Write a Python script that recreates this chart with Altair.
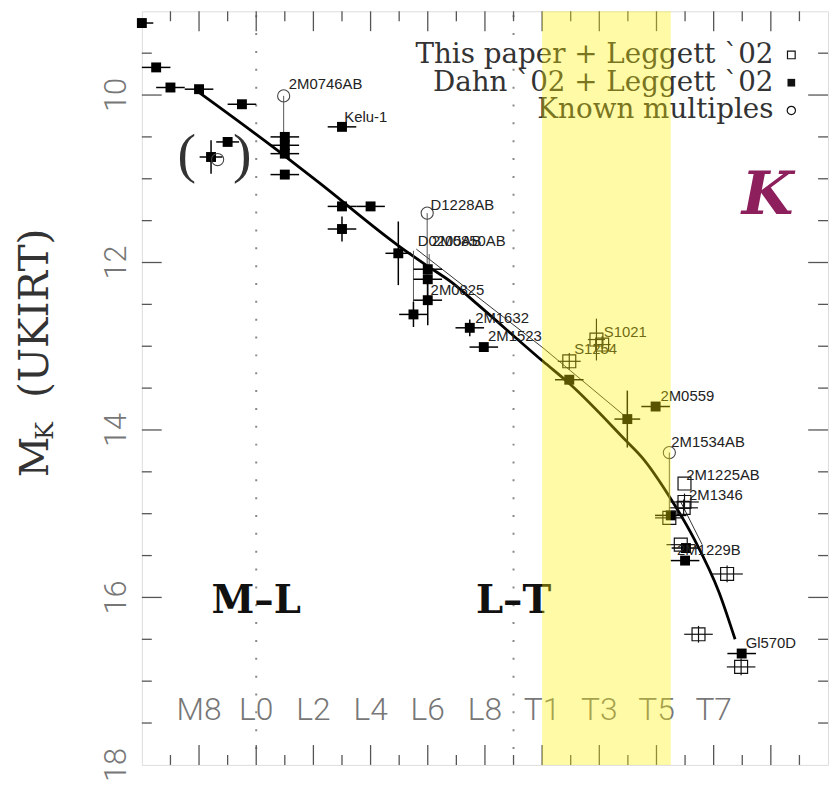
import altair as alt
import pandas as pd

# ---------------- data ----------------
# spectral-type index: M0 = 0, L0 = 10, T0 = 20 (as drawn on the plot)
# Dahn '02 + Leggett '02 (filled squares)
dahn_sp = [6.0, 6.5, 7.0, 8.0, 9.5, 9.0, 8.42, 11.0, 11.0, 11.0, 11.0, 13.0, 13.0, 14.0, 13.0,
           14.97, 16.0, 16.0, 16.0, 15.5, 17.47, 17.96, 20.95, 22.98, 23.97, 24.5, 25.03, 25.0, 26.98]
dahn_mk = [9.14, 9.67, 9.91, 9.93, 10.11, 10.56, 10.74, 10.50, 10.60, 10.70, 10.95, 10.38, 11.33, 11.33, 11.60,
           11.89, 12.08, 12.20, 12.45, 12.62, 12.78, 13.01, 13.40, 13.87, 13.72, 15.02, 15.41, 15.56, 16.67]
dahn_spe = [0.4, 0.5, 0.5, 0.5, 0.5, 0.4, 0.4, 0.5, 0.5, 0.5, 0.5, 0.5, 0.5, 0.5, 0.5,
            0.45, 0.5, 0.5, 0.5, 0.5, 0.5, 0.5, 0.5, 0.45, 0.5, 0.55, 0.5, 0.5, 0.5]
dahn_mke = [0, 0, 0, 0, 0, 0, 0.2, 0, 0, 0, 0, 0, 0, 0, 0.15,
            0.38, 0, 0, 0.3, 0.15, 0.1, 0, 0, 0.34, 0, 0, 0, 0, 0]

# This paper + Leggett '02 (open squares)
this_sp = [20.95, 21.9, 22.1, 24.98, 24.98, 24.95, 24.45, 24.85, 26.47, 25.47, 26.96]
this_mk = [13.18, 12.92, 12.98, 14.64, 14.86, 14.93, 15.05, 15.37, 15.72, 16.44, 16.83]
this_spe = [0.4, 0.3, 0.3, 0.0, 0.5, 0.5, 0.5, 0.5, 0.55, 0.5, 0.5]
this_mke = [0.1, 0.25, 0.1, 0.0, 0.1, 0.1, 0.0, 0.0, 0.1, 0.1, 0.1]

# Known multiples (open circles)
mult_sp = [10.96, 15.98, 24.45, 8.65]
mult_mk = [10.01, 11.41, 14.27, 10.77]

# thin connectors between multiples and components
conn_sp = [10.96, 15.98, 16.05, 24.45, 15.5]
conn_top = [10.01, 11.41, 11.90, 14.27, 11.86]
conn_bot = [10.50, 12.45, 12.08, 15.02, 12.62]

# thick fit curve
fit_sp = [7.96, 10.97, 12.21, 14.98, 15.98, 16.85, 17.64, 20.03, 21.0, 22.94, 23.5, 24.46, 25.33, 26.19, 26.75]
fit_mk = [9.96, 10.72, 11.05, 11.80, 12.04, 12.24, 12.47, 13.18, 13.46, 14.13, 14.33, 14.80, 15.31, 15.94, 16.50]

# thin secondary curve (two visible segments)
thin_sp = [15.6, 20.07, 22.95, 24.85, 25.6]
thin_mk = [11.84, 13.03, 13.85, 14.86, 15.37]
thin_seg = [1, 1, 1, 2, 2]

# object labels
lab_text = ["2M0746AB", "Kelu-1", "D1228AB", "D0205AB", "2M0850AB", "2M0825", "2M1632", "2M1523",
            "S1021", "S1254", "2M0559", "2M1534AB", "2M1225AB", "2M1346", "2M1229B", "Gl570D"]
lab_sp = [11.14, 13.08, 16.10, 15.65, 16.15, 16.10, 17.66, 18.11,
          22.16, 21.12, 24.14, 24.52, 25.04, 25.14, 24.72, 27.12]
lab_mk = [9.87, 10.26, 11.31, 11.74, 11.74, 12.33, 12.66, 12.88,
          12.83, 13.03, 13.60, 14.15, 14.54, 14.78, 15.44, 16.54]

# parentheses around the bracketed points
paren_text = ["(", ")"]
paren_sp = [7.57, 9.51]
paren_mk = [10.72, 10.72]

# spectral type labels and boundaries
spt_names = ["M8", "L0", "L2", "L4", "L6", "L8", "T1", "T3", "T5", "T7"]
spt_pos = [8, 10, 12, 14, 16, 18, 20, 22, 24, 26]
bound_names = ["M\u2013L", "L\u2013T"]
bound_pos = [10, 19]
band_from = [20.0]
band_to = [24.5]

x_major = [8, 10, 12, 14, 16, 18, 20, 22, 24, 26, 28]
x_minor = [7, 9, 11, 13, 15, 17, 19, 21, 23, 25, 27, 29]
y_major = [10, 12, 14, 16]
y_minor = [9.5, 10.5, 11, 11.5, 12.5, 13, 13.5, 14.5, 15, 15.5, 16.5, 17, 17.5]
y_labels = [10, 12, 14, 16, 18]

legend_text = ["This paper + Leggett `02", "Dahn `02 + Leggett `02", "Known multiples"]

# ---------------- chart ----------------
W, H = 692, 760
xs = alt.Scale(domain=[6, 30], nice=False, zero=False)
ys = alt.Scale(domain=[9, 18], reverse=True, nice=False, zero=False)


def X(f):
    return alt.X(f, type="quantitative", scale=xs, axis=None)


def Y(f):
    return alt.Y(f, type="quantitative", scale=ys, axis=None)


dahn = pd.DataFrame({"sp": dahn_sp, "mk": dahn_mk, "spe": dahn_spe, "mke": dahn_mke})
dahn["x0"] = (dahn.sp - dahn.spe).clip(lower=6)
dahn["x1"] = dahn.sp + dahn.spe
dahn["y0"] = dahn.mk - dahn.mke
dahn["y1"] = dahn.mk + dahn.mke
this = pd.DataFrame({"sp": this_sp, "mk": this_mk, "spe": this_spe, "mke": this_mke})
this["x0"] = this.sp - this.spe
this["x1"] = this.sp + this.spe
this["y0"] = this.mk - this.mke
this["y1"] = this.mk + this.mke
mult = pd.DataFrame({"sp": mult_sp, "mk": mult_mk})
conn = pd.DataFrame({"sp": conn_sp, "t": conn_top, "b": conn_bot})
fit = pd.DataFrame({"sp": fit_sp, "mk": fit_mk})
thin = pd.DataFrame({"sp": thin_sp, "mk": thin_mk, "seg": thin_seg})
labs = pd.DataFrame({"t": lab_text, "sp": lab_sp, "mk": lab_mk})
parens = pd.DataFrame({"t": paren_text, "sp": paren_sp, "mk": paren_mk})
spt = pd.DataFrame({"t": spt_names, "sp": spt_pos})
bnd = pd.DataFrame({"t": bound_names, "sp": bound_pos})
band = pd.DataFrame({"a": band_from, "b": band_to})
ylab = pd.DataFrame({"v": y_labels, "t": [str(v) for v in y_labels]})

layers = []

# dotted boundary lines
layers.append(alt.Chart(bnd).mark_rule(color="#888", strokeWidth=2, strokeDash=[2, 16]).encode(
    x=X("sp"), y=alt.value(4), y2=alt.value(H)))

# frame ticks
tick_col = "#555"
for vals, ln in ((x_major, 20), (x_minor, 10)):
    d = pd.DataFrame({"v": vals})
    layers.append(alt.Chart(d).mark_rule(color=tick_col, strokeWidth=1.3).encode(
        x=X("v"), y=alt.value(0), y2=alt.value(ln)))
    layers.append(alt.Chart(d).mark_rule(color=tick_col, strokeWidth=1.3).encode(
        x=X("v"), y=alt.value(H), y2=alt.value(H - ln)))
for vals, ln in ((y_major, 20), (y_minor, 10)):
    d = pd.DataFrame({"v": vals})
    layers.append(alt.Chart(d).mark_rule(color=tick_col, strokeWidth=1.3).encode(
        y=Y("v"), x=alt.value(0), x2=alt.value(ln)))
    layers.append(alt.Chart(d).mark_rule(color=tick_col, strokeWidth=1.3).encode(
        y=Y("v"), x=alt.value(W), x2=alt.value(W - ln)))

# y tick labels (rotated, outside the frame)
layers.append(alt.Chart(ylab).mark_text(font="Roboto", fontSize=31, fontWeight=300, color="#777",
                                        angle=270, align="center", baseline="middle").encode(
    y=Y("v"), x=alt.value(-25), text="t:N"))

# curves
layers.append(alt.Chart(thin).mark_line(color="#333", strokeWidth=1).encode(
    x=X("sp"), y=Y("mk"), detail="seg:N", order="sp:Q"))
layers.append(alt.Chart(fit).mark_line(color="#000", strokeWidth=2.8, interpolate="monotone").encode(
    x=X("sp"), y=Y("mk"), order="sp:Q"))

# connectors
layers.append(alt.Chart(conn).mark_rule(color="#555", strokeWidth=1).encode(
    x=X("sp"), y=Y("t"), y2=alt.Y2("b")))

# error bars
layers.append(alt.Chart(dahn).mark_rule(color="#000", strokeWidth=1.5).encode(
    x=X("x0"), x2=alt.X2("x1"), y=Y("mk")))
layers.append(alt.Chart(dahn[dahn.mke > 0]).mark_rule(color="#000", strokeWidth=1.5).encode(
    x=X("sp"), y=Y("y0"), y2=alt.Y2("y1")))
layers.append(alt.Chart(this[this.spe > 0]).mark_rule(color="#111", strokeWidth=1.2).encode(
    x=X("x0"), x2=alt.X2("x1"), y=Y("mk")))
layers.append(alt.Chart(this[this.mke > 0]).mark_rule(color="#111", strokeWidth=1.2).encode(
    x=X("sp"), y=Y("y0"), y2=alt.Y2("y1")))

# markers
layers.append(alt.Chart(dahn).mark_square(size=100, color="#000", opacity=1).encode(
    x=X("sp"), y=Y("mk")))
layers.append(alt.Chart(this).mark_point(shape="square", size=170, filled=False, color="#111",
                                         strokeWidth=1.2, opacity=1).encode(x=X("sp"), y=Y("mk")))
layers.append(alt.Chart(mult).mark_point(shape="circle", size=150, filled=False, color="#444",
                                         strokeWidth=1.1, opacity=1).encode(x=X("sp"), y=Y("mk")))

# object labels
layers.append(alt.Chart(labs).mark_text(font="Liberation Sans", fontSize=15, color="#222",
                                        align="left", baseline="middle").encode(
    x=X("sp"), y=Y("mk"), text="t:N"))
layers.append(alt.Chart(parens).mark_text(font="Liberation Serif", fontSize=56, color="#333",
                                          align="center", baseline="middle").encode(
    x=X("sp"), y=Y("mk"), text="t:N"))

# spectral type labels and boundary names
layers.append(alt.Chart(spt).mark_text(font="Roboto", fontSize=32, fontWeight=300, color="#777",
                                       align="center", baseline="middle").encode(
    x=X("sp"), y=alt.value(705), text="t:N"))
layers.append(alt.Chart(bnd).mark_text(font="DejaVu Serif", fontSize=39, fontWeight="bold", color="#111",
                                       align="center", baseline="middle").encode(
    x=X("sp"), y=alt.value(595), text="t:N"))

# y-axis title: M_K (UKIRT)
ttl = pd.DataFrame({"t": ["M", "K", "(UKIRT)"]})
layers.append(alt.Chart(ttl).transform_filter("datum.t == 'M'").mark_text(
    font="DejaVu Serif", fontSize=40, color="#333", angle=270, align="left", baseline="alphabetic").encode(
    x=alt.value(-95), y=alt.value(470), text="t:N"))
layers.append(alt.Chart(ttl).transform_filter("datum.t == 'K'").mark_text(
    font="DejaVu Serif", fontSize=24, color="#333", angle=270, align="left", baseline="alphabetic").encode(
    x=alt.value(-90), y=alt.value(432), text="t:N"))
layers.append(alt.Chart(ttl).transform_filter("datum.t == '(UKIRT)'").mark_text(
    font="DejaVu Serif", fontSize=41, color="#333", angle=270, align="left", baseline="alphabetic").encode(
    x=alt.value(-95), y=alt.value(390), text="t:N"))

# legend (top right)
leg = pd.DataFrame({"t": legend_text})
for i, (shape, filled, yy) in enumerate((("square", False, 44), ("square", True, 72), ("circle", False, 100))):
    layers.append(alt.Chart(leg).transform_filter(f"datum.t == '{legend_text[i]}'").mark_text(
        font="DejaVu Serif", fontSize=28, color="#333", align="right", baseline="middle").encode(
        x=alt.value(637), y=alt.value(yy), text="t:N"))
    layers.append(alt.Chart(leg).transform_filter(f"datum.t == '{legend_text[i]}'").mark_point(
        shape=shape, filled=filled, size=60 if shape == "square" else 70, color="#111",
        strokeWidth=1.2, opacity=1).encode(x=alt.value(655), y=alt.value(yy)))

# panel letter
panel = pd.DataFrame({"t": ["K"]})
layers.append(alt.Chart(panel).mark_text(font="DejaVu Serif", fontSize=60, fontWeight="bold",
                                         fontStyle="italic", color="#8c1f5c", align="center",
                                         baseline="middle").encode(
    x=alt.value(631), y=alt.value(186), text="t:N"))

# translucent yellow T-dwarf band on top
layers.append(alt.Chart(band).mark_rect(color="#fff200", opacity=0.35).encode(
    x=X("a"), x2=alt.X2("b"), y=alt.value(0), y2=alt.value(H)))

chart = alt.layer(*layers).properties(
    width=W, height=H,
    padding={"left": 135, "top": 0, "right": 2, "bottom": 24},
    autosize=alt.AutoSizeParams(type="none"),
).configure_view(stroke="#444", strokeWidth=1.5).configure(background="white")

chart.save("out.html", embed_options={"renderer": "svg", "actions": False})
